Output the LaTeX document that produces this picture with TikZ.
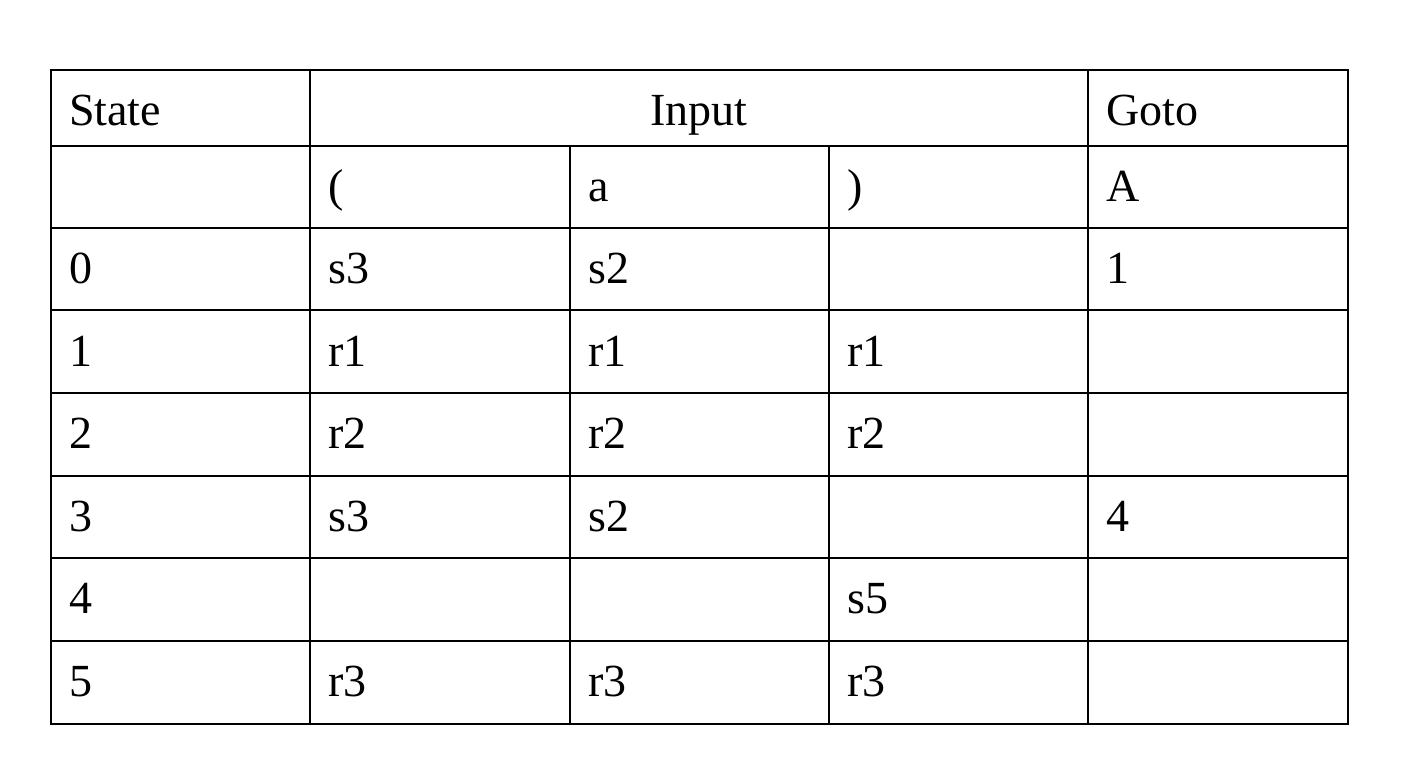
\documentclass[tikz,border=0pt]{standalone}
\usepackage{fontspec}
\setmainfont{Liberation Serif}
\begin{document}
\begin{tikzpicture}[x=1pt,y=-1pt,
  cell/.style={anchor=base west,inner sep=0pt,font=\fontsize{46}{50}\selectfont},
  head/.style={anchor=base,inner sep=0pt,font=\fontsize{46}{50}\selectfont},
  grid/.style={line width=2pt,black}]
\useasboundingbox (0,0) rectangle (1408,772);
% grid
\draw[grid] (51,70) rectangle (1348,724);
\foreach \y in {146,228,310,393,476,558,641} \draw[grid] (51,\y) -- (1348,\y);
\draw[grid] (310,70) -- (310,724);
\draw[grid] (1088,70) -- (1088,724);
\draw[grid] (570,146) -- (570,724);
\draw[grid] (829,146) -- (829,724);
% header
\node[cell] (hstate) at (69,125) {State};
\node[head] (hinput) at (699,125) {Input};
\node[cell] (hgoto) at (1106,125) {Goto};
% symbols row
\node[cell] (slp) at (328,201) {(};
\node[cell] (sa) at (588,201) {a};
\node[cell] (srp) at (847,201) {)};
\node[cell] (sA) at (1106,201) {A};
% row 0
\node[cell] (r0) at (69,283) {0};
\node[cell] (r0a) at (328,283) {s3};
\node[cell] (r0b) at (588,283) {s2};
\node[cell] (r0d) at (1106,283) {1};
% row 1
\node[cell] (r1) at (69,366) {1};
\node[cell] (r1a) at (328,366) {r1};
\node[cell] (r1b) at (588,366) {r1};
\node[cell] (r1c) at (847,366) {r1};
% row 2
\node[cell] (r2) at (69,448) {2};
\node[cell] (r2a) at (328,448) {r2};
\node[cell] (r2b) at (588,448) {r2};
\node[cell] (r2c) at (847,448) {r2};
% row 3
\node[cell] (r3) at (69,531) {3};
\node[cell] (r3a) at (328,531) {s3};
\node[cell] (r3b) at (588,531) {s2};
\node[cell] (r3d) at (1106,531) {4};
% row 4
\node[cell] (r4) at (69,613) {4};
\node[cell] (r4c) at (847,613) {s5};
% row 5
\node[cell] (r5) at (69,696) {5};
\node[cell] (r5a) at (328,696) {r3};
\node[cell] (r5b) at (588,696) {r3};
\node[cell] (r5c) at (847,696) {r3};
\end{tikzpicture}
\end{document}
